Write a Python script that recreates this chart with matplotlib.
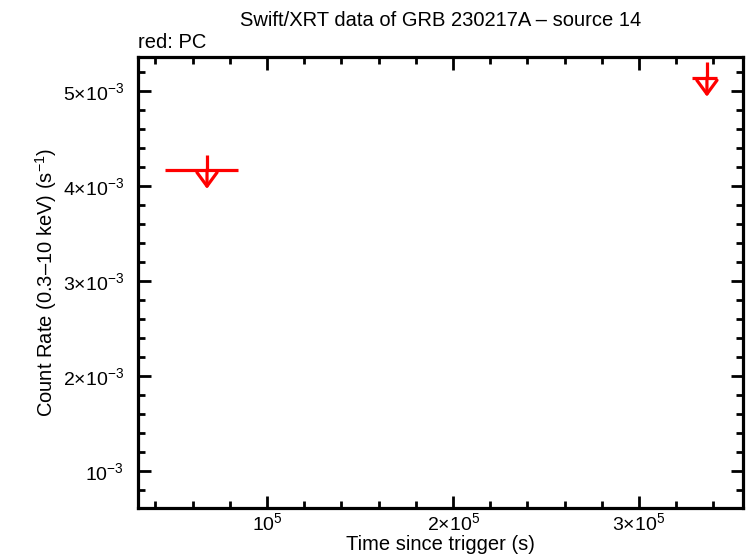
import matplotlib
matplotlib.use("Agg")
import matplotlib.pyplot as plt
from matplotlib.ticker import FixedLocator, MultipleLocator, FixedFormatter

plt.rcParams['font.family'] = ['Liberation Sans', 'DejaVu Sans']
plt.rcParams['mathtext.fontset'] = 'custom'
plt.rcParams['mathtext.rm'] = 'Liberation Sans'
plt.rcParams['mathtext.it'] = 'Liberation Sans'

# upper limits (PC mode)
t_mid = [67700, 336500]
t_lo = [45200, 328500]
t_hi = [84400, 342000]
rate_ul = [4.17e-3, 5.14e-3]

xticks = [1e5, 2e5, 3e5]
xlabels = [r'$10^{5}$', r'$2{\times}10^{5}$', r'$3{\times}10^{5}$']
yticks = [1e-3, 2e-3, 3e-3, 4e-3, 5e-3]
ylabels = [r'$10^{-3}$', r'$2{\times}10^{-3}$', r'$3{\times}10^{-3}$',
           r'$4{\times}10^{-3}$', r'$5{\times}10^{-3}$']

fig = plt.figure(figsize=(7.46, 5.58), dpi=100)
ax = fig.add_axes([0.185, 0.0896, 0.811, 0.8083])

red = '#ff0000'
for x, lo, hi, y in zip(t_mid, t_lo, t_hi, rate_ul):
    ax.plot([lo, hi], [y, y], color=red, lw=2.3, solid_capstyle='butt')
    ax.plot([x, x], [y, y + 1.6e-4], color=red, lw=2.3, solid_capstyle='butt')
    ax.annotate('', xy=(x, y - 2.0e-4), xytext=(x, y),
                arrowprops=dict(arrowstyle='->,head_length=0.45,head_width=0.33',
                                lw=2.3, color=red, mutation_scale=22,
                                shrinkA=0, shrinkB=0))

ax.set_xlim(30600, 355900)
ax.set_ylim(0.611e-3, 5.358e-3)

ax.xaxis.set_major_locator(FixedLocator(xticks))
ax.xaxis.set_major_formatter(FixedFormatter(xlabels))
ax.xaxis.set_minor_locator(MultipleLocator(2e4))
ax.yaxis.set_major_locator(FixedLocator(yticks))
ax.yaxis.set_major_formatter(FixedFormatter(ylabels))
ax.yaxis.set_minor_locator(MultipleLocator(2e-4))

ax.tick_params(which='both', direction='in', top=True, right=True,
               width=2, labelsize=14)
ax.tick_params(axis='x', pad=3)
ax.tick_params(axis='y', pad=10)
ax.tick_params(which='major', length=9)
ax.tick_params(which='minor', length=5)
for s in ax.spines.values():
    s.set_linewidth(2.3)

ax.set_xlabel('Time since trigger (s)', fontsize=14.5, labelpad=1)
ax.set_ylabel('Count Rate (0.3\u201310 keV) (s$^{-1}$)', fontsize=14.5, labelpad=3)
ax.set_title('Swift/XRT data of GRB 230217A \u2013 source 14', fontsize=14.5,
             pad=22)
ax.text(0.0, 1.01, 'red: PC', transform=ax.transAxes, fontsize=14.5,
        ha='left', va='bottom')

fig.savefig('out.png', dpi=100)
